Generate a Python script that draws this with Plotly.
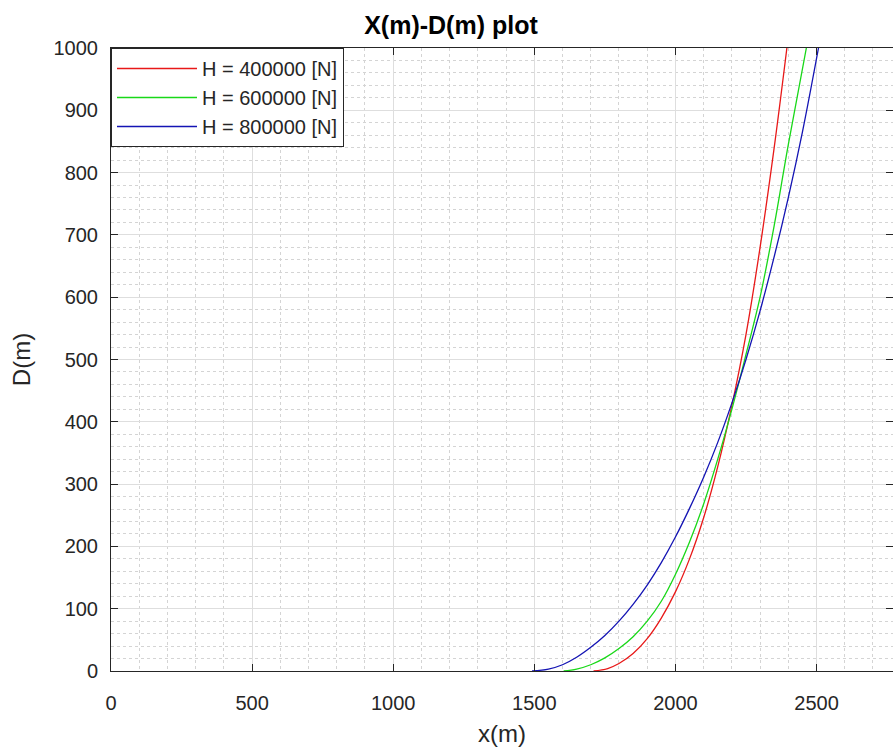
import plotly.graph_objects as go

# Curve readings (x in m, D in m)
red_x = [1710, 1760, 1800, 1850, 1900, 1950, 2000, 2050, 2100, 2150, 2200, 2250, 2300, 2350, 2395]
red_d = [0, 4, 12, 28, 52, 85, 127, 180, 246, 328, 426, 540, 680, 840, 1000]

green_x = [1604, 1650, 1700, 1750, 1800, 1850, 1900, 1950, 2000, 2050, 2100, 2150, 2200, 2250, 2300, 2350, 2400, 2464]
green_d = [0, 3, 10, 21, 36, 55, 80, 112, 155, 207, 268, 340, 420, 508, 600, 715, 845, 1000]

blue_x = [1492, 1550, 1600, 1650, 1700, 1750, 1800, 1850, 1900, 1950, 2000, 2050, 2100, 2150, 2200, 2250, 2300, 2350, 2400, 2450, 2507]
blue_d = [0, 3, 10, 22, 38, 57, 80, 107, 138, 174, 215, 261, 311, 367, 430, 500, 578, 665, 760, 865, 1000]

series_names = ["H = 400000 [N]", "H = 600000 [N]", "H = 800000 [N]"]
series_colors = ["#E81818", "#18D818", "#1414B4"]

x_ticks = [0, 500, 1000, 1500, 2000, 2500]
y_ticks = [0, 100, 200, 300, 400, 500, 600, 700, 800, 900, 1000]

FONT = "Liberation Sans, Arial, sans-serif"
AXC = "#262626"

fig = go.Figure()
for xs, ds, name, col in zip([red_x, green_x, blue_x], [red_d, green_d, blue_d], series_names, series_colors):
    fig.add_trace(go.Scatter(x=xs, y=ds, mode="lines", name=name,
                             line=dict(color=col, width=1.3, shape="spline", smoothing=1.0)))

# invisible helper trace for right-side ticks
fig.add_trace(go.Scatter(x=[None], y=[None], yaxis="y2", showlegend=False, hoverinfo="skip"))

fig.update_layout(
    width=893, height=749,
    margin=dict(l=111, r=0, t=48, b=78),
    paper_bgcolor="white", plot_bgcolor="white",
    font=dict(family=FONT, color=AXC, size=20),
    title=dict(text="<b>X(m)-D(m) plot</b>", x=0.505, xanchor="center", y=0.966, yanchor="middle",
               font=dict(family=FONT, size=25, color="black")),
    xaxis=dict(
        range=[0, 2771], tickvals=x_ticks, ticktext=[str(v) for v in x_ticks],
        ticks="inside", ticklen=7, tickcolor=AXC, tickwidth=1,
        showline=True, linecolor=AXC, linewidth=1, mirror="ticks",
        showgrid=True, gridcolor="#DEDEDE", gridwidth=1,
        minor=dict(dtick=100, showgrid=True, gridcolor="#D4D4D4", griddash="dot", gridwidth=1, ticks=""),
        zeroline=False, ticklabelstandoff=14, automargin=False,
        tickfont=dict(size=20, color=AXC),
        title=dict(text="x(m)", font=dict(size=24, color=AXC), standoff=12),
    ),
    yaxis=dict(
        range=[0, 1000], tickvals=y_ticks, ticktext=[str(v) for v in y_ticks],
        ticks="inside", ticklen=7, tickcolor=AXC, tickwidth=1,
        showline=True, linecolor=AXC, linewidth=1,
        showgrid=True, gridcolor="#DEDEDE", gridwidth=1,
        minor=dict(dtick=20, showgrid=True, gridcolor="#D4D4D4", griddash="dot", gridwidth=1, ticks=""),
        zeroline=False, ticklabelstandoff=8, automargin=False,
        tickfont=dict(size=20, color=AXC),
        title=dict(text="D(m)", font=dict(size=24, color=AXC), standoff=16),
    ),
    yaxis2=dict(
        overlaying="y", side="right", range=[0, 1000], tickvals=y_ticks,
        ticks="inside", ticklen=7, tickcolor=AXC, showticklabels=False,
        showgrid=False, zeroline=False, showline=False, automargin=False,
    ),
    legend=dict(
        x=0, y=1, xanchor="left", yanchor="top",
        bgcolor="white", bordercolor=AXC, borderwidth=1,
        font=dict(size=20, color=AXC), itemwidth=80,
        tracegroupgap=0,
    ),
    showlegend=True,
)

fig.write_html("out.html", config={"displayModeBar": False},
               post_script="document.body.style.margin='0px';")
